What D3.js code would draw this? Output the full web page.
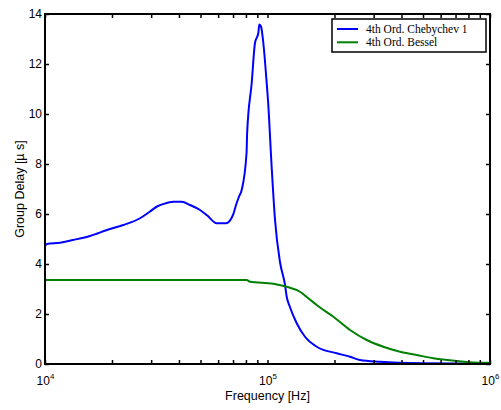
<!DOCTYPE html>
<html>
<head>
<meta charset="utf-8">
<script src="https://cdn.jsdelivr.net/npm/d3@7"></script>
<style>
  body { margin: 0; background: #fff; }
  svg { display: block; }
  .axis text { font-family: "Liberation Sans", Arial, sans-serif; font-size: 12px; fill: #000; }
  .axis line { stroke: #000; stroke-width: 1.5px; }
</style>
</head>
<body>
<div id="chart"></div>
<script>
// Chebychev 1 group delay (frequency in Hz, delay in us)
const chebFreq = [10000, 10200, 11680, 13360, 15930, 18990, 22480, 26730, 29640, 31870, 34020,
  37720, 41160, 44850, 49750, 53480, 59130, 65080, 69970, 72190, 74500, 76560, 80500, 81000,
  84920, 87860, 90930, 91870, 93500, 95450, 99180, 100500, 104400, 108100, 113800, 119900,
  122000, 126000, 135300, 147400, 166400, 204700, 234900, 260400, 320300, 500000, 1000000];
const chebDelay = [4.72, 4.8, 4.85, 4.96, 5.12, 5.36, 5.56, 5.83, 6.1, 6.3, 6.4,
  6.49, 6.49, 6.36, 6.16, 5.95, 5.63, 5.63, 5.96, 6.36, 6.7, 6.96, 8.44, 9.24,
  11.24, 12.84, 13.24, 13.58, 13.5, 12.96, 11.24, 10.56, 7.88, 5.76, 4.08, 3.16,
  2.69, 2.29, 1.63, 1.09, 0.69, 0.43, 0.29, 0.16, 0.09, 0.03, 0.01];

// Bessel group delay
const besselFreq = [10000, 80640, 83440, 106200, 122000, 140000, 152600, 166400, 197600, 234900,
  279100, 331500, 394000, 468300, 556200, 708700, 933300, 1000000];
const besselDelay = [3.36, 3.36, 3.29, 3.21, 3.09, 2.89, 2.63, 2.36, 1.89, 1.36,
  0.96, 0.69, 0.49, 0.36, 0.23, 0.12, 0.05, 0.05];

const seriesNames = ['4th Ord. Chebychev 1', '4th Ord. Bessel'];
const seriesColors = ['#0000ff', '#008000'];
const xMajorTicks = [1e4, 1e5, 1e6];
const xMajorExp = ['4', '5', '6'];
const yTicks = [0, 2, 4, 6, 8, 10, 12, 14];

function drawChart() {
  const margin = { top: 14, right: 11, bottom: 46, left: 45 },
    width = 501 - margin.left - margin.right,
    height = 410 - margin.top - margin.bottom;

  const root = d3.select('#chart').append('svg')
    .attr('width', 501)
    .attr('height', 410);
  root.append('rect').attr('width', 501).attr('height', 410).attr('fill', '#fff');

  const svg = root.append('g')
    .attr('transform', `translate(${margin.left},${margin.top})`);

  const x = d3.scaleLog().domain([1e4, 1e6]).range([0, width]);
  const y = d3.scaleLinear().domain([0, 14]).range([height, 0]);

  // minor + major log ticks
  const xTicks = [];
  for (let dec = 1e4; dec < 1e6; dec *= 10) {
    for (let k = 1; k < 10; k++) xTicks.push(dec * k);
  }
  xTicks.push(1e6);

  const line = d3.line()
    .curve(d3.curveMonotoneX)
    .x((d) => x(d[0]))
    .y((d) => y(d[1]));

  const cheb = chebFreq.map((f, i) => [f, chebDelay[i]]);
  const bessel = besselFreq.map((f, i) => [f, besselDelay[i]]);

  svg.append('path').datum(cheb)
    .attr('fill', 'none').attr('stroke', seriesColors[0]).attr('stroke-width', 2)
    .attr('d', line);
  svg.append('path').datum(bessel)
    .attr('fill', 'none').attr('stroke', seriesColors[1]).attr('stroke-width', 2)
    .attr('d', line);

  // bottom axis with superscript labels
  const xAxis = svg.append('g')
    .attr('class', 'axis')
    .attr('transform', `translate(0,${height})`)
    .call(d3.axisBottom(x).tickValues(xTicks).tickSizeInner(-4).tickSizeOuter(0)
      .tickPadding(12).tickFormat(() => ''));
  xAxis.select('.domain').remove();
  xAxis.selectAll('.tick text').each(function (d) {
    const i = xMajorTicks.indexOf(d);
    if (i < 0) return;
    const t = d3.select(this);
    t.append('tspan').text('10');
    t.append('tspan').attr('dy', -6).style('font-size', '8px').text(xMajorExp[i]);
  });

  const xTop = svg.append('g')
    .attr('class', 'axis')
    .call(d3.axisTop(x).tickValues(xTicks).tickSizeInner(-4).tickSizeOuter(0).tickFormat(''));
  xTop.select('.domain').remove();

  const yAxis = svg.append('g')
    .attr('class', 'axis')
    .call(d3.axisLeft(y).tickValues(yTicks).tickSizeInner(-4).tickSizeOuter(0).tickPadding(3));
  yAxis.select('.domain').remove();

  const yRight = svg.append('g')
    .attr('class', 'axis')
    .attr('transform', `translate(${width},0)`)
    .call(d3.axisRight(y).tickValues(yTicks).tickSizeInner(-4).tickSizeOuter(0).tickFormat(''));
  yRight.select('.domain').remove();

  // box
  svg.append('rect')
    .attr('width', width).attr('height', height)
    .attr('fill', 'none').attr('stroke', '#000').attr('stroke-width', 2);

  // axis labels
  svg.append('text')
    .attr('x', width / 2).attr('y', height + 36)
    .style('text-anchor', 'middle')
    .style('font-family', '"Liberation Sans", Arial, sans-serif')
    .style('font-size', '12.5px')
    .text('Frequency [Hz]');

  svg.append('text')
    .attr('transform', 'rotate(-90)')
    .attr('x', -height / 2).attr('y', -21)
    .style('text-anchor', 'middle')
    .style('font-family', '"Liberation Sans", Arial, sans-serif')
    .style('font-size', '12.5px')
    .text('Group Delay [\u00b5 s]');

  // legend
  const legend = svg.append('g').attr('transform', `translate(${332 - margin.left},${19 - margin.top})`);
  legend.append('rect')
    .attr('width', 154).attr('height', 33)
    .attr('fill', '#fff').attr('stroke', '#000').attr('stroke-width', 1.5);
  seriesNames.forEach((name, i) => {
    const yy = 10 + i * 13.3;
    legend.append('line')
      .attr('x1', 5).attr('x2', 26).attr('y1', yy).attr('y2', yy)
      .attr('stroke', seriesColors[i]).attr('stroke-width', 2);
    legend.append('text')
      .attr('x', 34).attr('y', yy + 3.5)
      .style('font-family', '"Liberation Serif", "Times New Roman", serif')
      .style('font-size', '11.5px')
      .text(name);
  });
}

drawChart();
</script>
</body>
</html>
